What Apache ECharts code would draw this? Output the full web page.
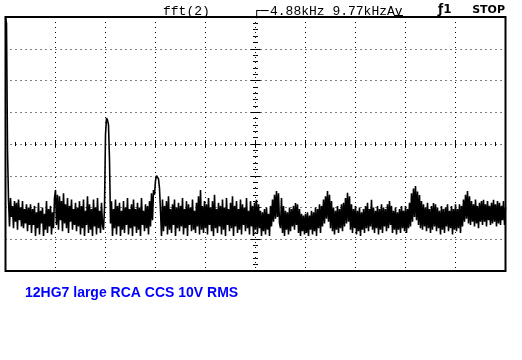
<!DOCTYPE html>
<html>
<head>
<meta charset="utf-8">
<script src="https://cdn.jsdelivr.net/npm/echarts@6/dist/echarts.min.js"></script>
<style>
html,body{margin:0;padding:0;background:#fff;}
#chart{width:522px;height:360px;}
</style>
</head>
<body>
<div id="chart"></div>
<script>
// FFT trace levels in screen divisions (0 = bottom, 8 = top), one value per display column (500 columns)
const levels = [
  8.00, 7.80, 3.80, 2.25, 1.40, 2.30, 1.70, 2.05, 1.35, 2.20, 1.55, 2.15, 1.30, 2.25, 1.60, 2.00, 1.40, 2.20, 1.35, 1.95, 1.50, 2.10, 1.25, 2.00, 1.45,
  2.10, 1.20, 1.95, 1.45, 2.05, 1.10, 1.85, 1.35, 2.15, 1.15, 1.90, 1.50, 2.00, 1.10, 1.80, 1.30, 2.20, 1.20, 1.95, 1.40, 2.05, 1.15, 1.85, 1.35, 2.30,
  2.55, 1.45, 2.40, 1.30, 2.35, 1.60, 2.20, 1.25, 2.45, 1.50, 2.10, 1.35, 2.30, 1.20, 2.05, 1.55, 2.25, 1.30, 1.95, 1.45, 2.15, 1.25, 2.00, 1.40, 2.20,
  1.15, 2.05, 1.35, 2.25, 1.10, 1.90, 1.45, 2.35, 1.20, 2.10, 1.30, 1.95, 1.10, 2.25, 1.40, 2.00, 1.15, 2.30, 1.35, 1.90, 1.20, 2.15, 1.45, 1.30, 2.00,
  4.30, 4.82, 4.75, 4.60, 3.50, 1.50, 2.20, 1.10, 1.95, 1.35, 2.25, 1.15, 2.05, 1.40, 2.15, 1.10, 1.90, 1.30, 2.20, 1.20, 2.00, 1.45, 2.30, 1.15, 1.95,
  1.35, 2.10, 1.10, 2.25, 1.40, 1.95, 1.20, 2.15, 1.30, 2.00, 1.10, 2.30, 1.45, 1.90, 1.25, 2.10, 1.35, 2.05, 1.15, 2.20, 1.40, 2.45, 1.60, 2.55, 2.40,
  2.85, 3.00, 3.00, 2.90, 2.60, 1.90, 1.10, 2.25, 1.25, 2.05, 1.40, 2.20, 1.15, 2.35, 1.30, 1.95, 1.20, 2.10, 1.45, 2.25, 1.10, 2.00, 1.35, 2.15, 1.25,
  2.05, 1.40, 2.30, 1.15, 1.95, 1.35, 2.20, 1.10, 2.10, 1.45, 2.00, 1.25, 2.25, 1.30, 1.90, 1.20, 2.15, 1.40, 2.35, 1.15, 2.55, 1.30, 2.05, 1.20, 2.20,
  1.35, 2.10, 1.15, 2.30, 1.45, 2.00, 1.25, 2.20, 1.10, 2.40, 1.35, 1.95, 1.20, 2.15, 1.40, 2.05, 1.15, 2.25, 1.30, 2.00, 1.10, 2.30, 1.45, 1.95, 1.25,
  2.15, 1.35, 2.35, 1.10, 2.05, 1.40, 2.20, 1.20, 1.95, 1.30, 2.25, 1.15, 2.10, 1.45, 2.00, 1.25, 2.30, 1.35, 1.90, 1.15, 2.20, 1.40, 2.05, 1.10, 2.15,
  1.30, 2.24, 1.20, 2.10, 1.35, 1.90, 1.10, 1.85, 1.25, 1.95, 1.15, 2.00, 1.30, 1.80, 1.10, 2.05, 1.40, 2.25, 1.55, 2.40, 1.65, 2.52, 1.70, 2.45, 1.50,
  1.35, 2.30, 1.20, 2.05, 1.10, 1.90, 1.30, 1.85, 1.15, 2.00, 1.25, 1.95, 1.40, 2.05, 1.30, 2.14, 1.45, 2.10, 1.20, 1.95, 1.10, 1.80, 1.25, 1.75, 1.15,
  1.80, 1.20, 1.85, 1.10, 1.75, 1.30, 1.90, 1.15, 1.85, 1.25, 2.00, 1.10, 1.95, 1.35, 2.10, 1.20, 2.05, 1.40, 2.25, 1.50, 2.35, 1.65, 2.52, 1.55, 2.40,
  1.35, 2.20, 1.25, 2.00, 1.15, 1.90, 1.30, 2.05, 1.20, 1.95, 1.35, 2.10, 1.25, 2.15, 1.40, 2.30, 1.50, 2.46, 1.55, 2.35, 1.30, 2.10, 1.20, 1.95, 1.35,
  2.05, 1.15, 1.90, 1.25, 2.00, 1.10, 1.85, 1.30, 1.95, 1.20, 2.05, 1.35, 2.15, 1.25, 1.95, 1.40, 2.24, 1.30, 2.00, 1.20, 1.90, 1.35, 2.05, 1.15, 1.95,
  1.30, 2.10, 1.20, 2.00, 1.40, 1.95, 1.25, 2.10, 1.35, 2.20, 1.45, 2.05, 1.20, 1.90, 1.30, 2.00, 1.15, 1.85, 1.30, 1.95, 1.20, 2.05, 1.35, 1.90, 1.25,
  2.05, 1.20, 1.95, 1.35, 2.15, 1.40, 2.45, 1.55, 2.60, 1.70, 2.68, 1.60, 2.50, 1.45, 2.39, 1.35, 2.20, 1.30, 2.10, 1.40, 2.00, 1.25, 2.15, 1.35, 1.95,
  1.20, 2.05, 1.30, 2.14, 1.40, 2.10, 1.25, 2.00, 1.35, 1.90, 1.15, 2.05, 1.30, 1.95, 1.20, 2.00, 1.40, 2.10, 1.25, 1.90, 1.35, 2.05, 1.15, 1.95, 1.30,
  2.10, 1.25, 1.95, 1.35, 2.10, 1.20, 2.05, 1.40, 2.25, 1.55, 2.40, 1.65, 2.52, 1.50, 2.35, 1.45, 2.20, 1.55, 2.10, 1.40, 2.25, 1.50, 2.05, 1.35, 2.15,
  1.55, 2.20, 1.45, 2.24, 1.55, 2.10, 1.40, 2.20, 1.60, 2.05, 1.45, 2.15, 1.50, 2.24, 1.55, 2.10, 1.40, 2.20, 1.50, 2.15, 1.45, 2.05, 1.60, 2.20, 1.45,
  2.00
];
const colCount = 500;          // x range in columns (10 divisions)
const xDiv = 50;               // columns per division
const yMax = 8;                // vertical divisions
const headerLeft = 'fft(2)';
const headerMarker = '┌─';
const headerMid = '4.88kHz 9.77kHzAv';
const headerRight1 = 'ƒ1';
const headerRight2 = 'STOP';
const caption = '12HG7 large RCA CCS 10V RMS';

const trace = levels.map((v, i) => [i, v]);

const dotted = {color: '#000', width: 1, type: [1, 4]};
function tickAxisX(inside) {
  return {
    type: 'value', min: 0, max: colCount, interval: xDiv, position: 'top', offset: -127,
    axisLine: {show: false}, axisLabel: {show: false}, splitLine: {show: false},
    axisTick: {show: true, inside: inside, length: 4, lineStyle: {color: '#000', width: 1}},
    minorTick: {show: true, splitNumber: 5, length: 2, lineStyle: {color: '#000', width: 1}}
  };
}
function tickAxisY(inside) {
  return {
    type: 'value', min: 0, max: yMax, interval: 1, position: 'left', offset: -250,
    axisLine: {show: false}, axisLabel: {show: false}, splitLine: {show: false},
    axisTick: {show: true, inside: inside, length: 5, lineStyle: {color: '#000', width: 1}},
    minorTick: {show: true, splitNumber: 5, length: 2.5, lineStyle: {color: '#000', width: 1}}
  };
}

const chart = echarts.init(document.getElementById('chart'), null, {renderer: 'canvas'});
chart.setOption({
  animation: false,
  backgroundColor: '#fff',
  grid: {left: 5.5, top: 17, width: 500, height: 254, show: true, borderColor: '#000', borderWidth: 2, backgroundColor: '#fff'},
  xAxis: [
    {type: 'value', min: 0, max: colCount, interval: xDiv,
     axisLine: {show: false}, axisTick: {show: false}, axisLabel: {show: false},
     splitLine: {show: true, lineStyle: dotted}},
    tickAxisX(true), tickAxisX(false)
  ],
  yAxis: [
    {type: 'value', min: 0, max: yMax, interval: 1,
     axisLine: {show: false}, axisTick: {show: false}, axisLabel: {show: false},
     splitLine: {show: true, lineStyle: dotted}},
    tickAxisY(true), tickAxisY(false)
  ],
  series: [{
    type: 'line', xAxisIndex: 0, yAxisIndex: 0, data: trace,
    showSymbol: false, symbol: 'none', clip: true,
    lineStyle: {color: '#000', width: 1.6, join: 'bevel'}
  }],
  graphic: [
    {type: 'text', left: 163, top: 5, style: {text: headerLeft, font: '13px "Liberation Mono"', fill: '#000'}},
    {type: 'text', left: 253, top: 5, style: {text: headerMarker, font: '13px "DejaVu Sans Mono"', fill: '#000'}},
    {type: 'text', left: 270, top: 5, style: {text: headerMid, font: '13px "Liberation Mono"', fill: '#000'}},
    {type: 'rect', shape: {x: 394, y: 15, width: 9, height: 1.5}, style: {fill: '#000'}},
    {type: 'text', left: 438, top: 4, style: {text: headerRight1, font: 'bold 12px "DejaVu Sans"', fill: '#000'}},
    {type: 'text', right: 17, top: 5, style: {text: headerRight2, font: 'bold 11px "DejaVu Sans"', fill: '#000'}},
    {type: 'text', left: 25, top: 286, style: {text: caption, font: 'bold 14px "Liberation Sans"', fill: '#0000ff'}}
  ]
});
</script>
</body>
</html>
